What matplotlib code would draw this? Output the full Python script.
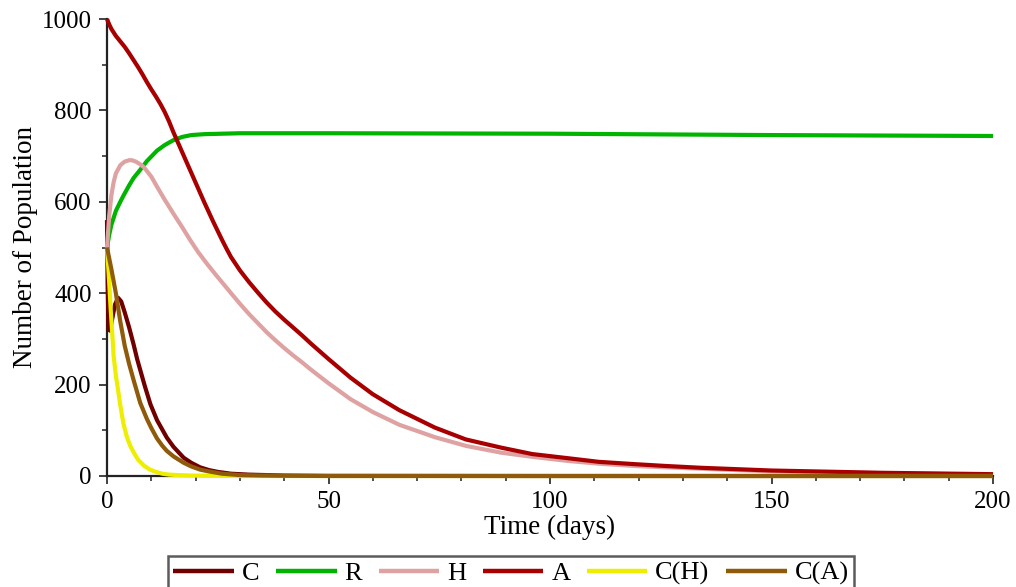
import matplotlib
matplotlib.use("Agg")
import matplotlib.pyplot as plt
from matplotlib.ticker import MultipleLocator

# ---- data ----
t_C = [0, 0.15, 0.35, 0.7, 1.2, 1.8, 2.5, 3.2, 4, 5, 6, 6.8, 7.5, 8.5, 9.8, 11.3, 13.5, 15,
       17.3, 19, 21, 23, 25, 28, 32, 40, 50, 100, 200]
C = [560, 420, 320, 318, 345, 375, 390, 382, 358, 325, 288, 256, 232, 198, 157, 122, 84, 64,
     40, 29, 19, 13, 9, 5, 3, 1, 0.3, 0, 0]

t_R = [0, 0.5, 1, 2, 3, 3.8, 5, 6, 7.5, 9, 11.3, 13, 15, 17, 19, 22, 26, 30, 50, 100, 150, 200]
R = [500, 528, 550, 580, 600, 615, 636, 652, 670, 689, 712, 724, 735, 742, 746, 748, 749, 750,
     750, 749, 746, 744]

t_H = [0, 0.5, 1, 1.5, 2, 3, 4, 5, 5.6, 6.5, 7.5, 8.3, 10, 11.3, 13, 15, 17, 18.8, 20.5, 22.6,
       24.5, 26.3, 28, 30, 32, 34, 36, 38, 40, 42, 44, 46, 48, 50, 55, 60, 66, 74, 81, 89, 96,
       104, 111, 119, 126, 134, 150, 175, 200]
H = [500, 570, 615, 643, 662, 680, 688, 691, 691, 688, 682, 676, 655, 633, 605, 574, 544, 516,
     491, 464, 441, 420, 400, 377, 355, 335, 315, 297, 280, 264, 249, 233, 218, 203, 168, 140,
     112, 85, 66, 51, 42, 33, 27, 22, 19, 16, 10, 6, 3]

t_A = [0, 0.5, 1, 2, 3, 4, 5, 6, 7, 8, 9, 10, 11, 12, 13, 14, 15, 16, 17, 18, 19, 20, 21, 22,
       23, 24, 25, 26, 27, 28, 30, 32, 34, 36, 38, 40, 42, 44, 46, 48, 50, 55, 60, 66, 74, 81,
       89, 96, 104, 111, 119, 126, 134, 150, 175, 200]
A = [1000, 988, 978, 963, 951, 939, 925, 910, 895, 879, 862, 846, 831, 815, 797, 776, 752, 730,
     708, 686, 664, 642, 620, 598, 577, 556, 536, 516, 497, 479, 450, 425, 402, 380, 360, 342,
     325, 308, 290, 273, 256, 215, 179, 144, 106, 80, 62, 48, 39, 31, 26, 22, 18, 12, 7, 4]

t_CH = [0, 0.4, 0.8, 1.2, 1.5, 2, 2.5, 3, 3.7, 4.5, 5.2, 6, 7, 8.3, 9.5, 11, 12.5, 14, 16, 19,
        23, 30, 50, 100, 200]
CH = [500, 440, 370, 310, 262, 220, 188, 155, 115, 85, 67, 52, 36, 23, 15, 9, 5, 3, 2, 1,
      0.5, 0, 0, 0, 0]

t_CA = [0, 1, 2, 3, 4, 5, 6, 7.5, 9, 10, 11.3, 12.5, 13.5, 15, 17.3, 19, 21, 23, 26, 30, 35,
        40, 50, 100, 200]
CA = [500, 452, 400, 338, 285, 245, 210, 160, 125, 105, 82, 66, 55, 43, 29, 21, 14, 10, 5, 2,
      1, 0.5, 0, 0, 0]

labels = ["C", "R", "H", "A", "C(H)", "C(A)"]
colors = ["#700000", "#00B400", "#DFA2A2", "#A80000", "#EEEE00", "#8F5A0A"]

x_ticks = [0, 50, 100, 150, 200]
y_ticks = [0, 200, 400, 600, 800, 1000]

# ---- figure ----
plt.rcParams["font.family"] = ["Liberation Serif", "DejaVu Serif"]
W, Hpx = 1016, 587
fig = plt.figure(figsize=(W / 100, Hpx / 100), dpi=100)
ax = fig.add_axes([107 / W, 1 - 476 / Hpx, (993 - 107) / W, (476 - 19) / Hpx])

series = [(t_C, C), (t_R, R), (t_H, H), (t_A, A), (t_CH, CH), (t_CA, CA)]
for (tt, vv), lab, col in zip(series, labels, colors):
    ax.plot(tt, vv, color=col, lw=3.0, label=lab, zorder=3, clip_on=False,
            solid_joinstyle="round", solid_capstyle="butt")

ax.set_xlim(0, 200)
ax.set_ylim(0, 1000)
ax.set_xticks(x_ticks)
ax.set_yticks(y_ticks)
ax.xaxis.set_minor_locator(MultipleLocator(10))
ax.yaxis.set_minor_locator(MultipleLocator(100))
for s in ["top", "right"]:
    ax.spines[s].set_visible(False)
for s in ["left", "bottom"]:
    ax.spines[s].set_linewidth(1.6)
    ax.spines[s].set_color("#222222")
ax.tick_params(which="major", direction="out", length=6, width=1.2, labelsize=18,
               colors="#222222", labelcolor="black", pad=5)
ax.tick_params(which="minor", direction="out", length=3.5, width=1.1, colors="#222222")

ax.set_xlabel("Time (days)", fontsize=19.5, labelpad=1)
ax.set_ylabel("Number of Population", fontsize=19.5, labelpad=3)

leg = fig.legend(loc="upper center", bbox_to_anchor=(511 / W, 1 - 556 / Hpx), ncol=6,
                 fontsize=19, frameon=True, fancybox=False, edgecolor="#333333",
                 handlelength=2.3, handletextpad=0.3, columnspacing=0.62,
                 borderpad=0.2, borderaxespad=0)
leg.get_frame().set_linewidth(1.8)
for line in leg.get_lines():
    line.set_linewidth(3.2)

fig.savefig("out.png", dpi=100)
